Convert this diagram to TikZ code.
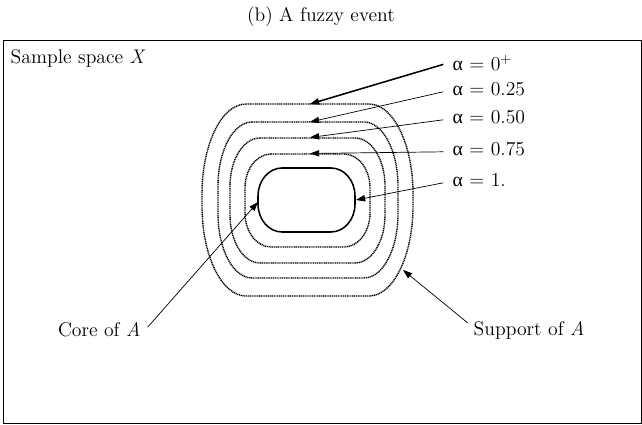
\documentclass[tikz,border=0pt]{standalone}
\usepackage{fontspec}
\newfontfamily\grkfont{Liberation Serif}
\usetikzlibrary{arrows.meta}

\newcommand{\al}{{\grkfont α}}

%% one alpha-cut: style, centre x, centre y, half width, half height, corner rx, corner ry
\newcommand{\cutline}[7]{%
  \draw[#1] (#2-#4+#6, #3+#5) -- (#2+#4-#6, #3+#5)
    arc[start angle=90, end angle=0, x radius=#6, y radius=#7]
    -- (#2+#4, #3-#5+#7)
    arc[start angle=0, end angle=-90, x radius=#6, y radius=#7]
    -- (#2-#4+#6, #3-#5)
    arc[start angle=270, end angle=180, x radius=#6, y radius=#7]
    -- (#2-#4, #3+#5-#7)
    arc[start angle=180, end angle=90, x radius=#6, y radius=#7]
    -- cycle;}

\tikzset{
  %% frame of the sample space
  frame/.style={line width=0.6pt},
  %% dotted level sets
  cut/.style={dash pattern=on 0.8pt off 0.5pt, line width=1pt},
  coreLine/.style={line width=1.1pt},
  %% arrows
  arr/.style={-{Triangle[length=6.5pt, width=4.5pt]}, line width=0.5pt},
  arrBold/.style={arr, line width=1.1pt},
  lbl/.style={font=\fontsize{14}{16}\selectfont, inner sep=1pt}
}

\begin{document}
\begin{tikzpicture}[x=0.025cm, y=0.025cm]

\useasboundingbox (0,0) rectangle (642,425);

%% ═══════════════════════════════════════════════════════════════
%%  TITLE AND FRAME
%% ═══════════════════════════════════════════════════════════════

\node[lbl] (title) at (321,408) {(b) A fuzzy event};

\draw[frame] (3,2) rectangle (641,385);
\node[lbl, anchor=west] (space) at (9,367) {Sample space \textit{X}};

%% ═══════════════════════════════════════════════════════════════
%%  LEVEL SETS
%% ═══════════════════════════════════════════════════════════════

\cutline{cut}{307.5}{225}{105.5}{96}{44}{90}
\cutline{cut}{308}{225}{90}{78}{34}{64}
\cutline{cut}{307.5}{224.5}{77.5}{62.5}{30}{48}
\cutline{cut}{307.5}{224.5}{62.5}{46.5}{26}{34}
\cutline{coreLine}{306.5}{225}{48.5}{32}{24}{28}

\coordinate (tipZero)    at (310,321);
\coordinate (tipQuarter) at (310,303);
\coordinate (tipHalf)    at (310,287.5);
\coordinate (tipThreeQ)  at (310,271.5);
\coordinate (tipOne)     at (356,225);
\coordinate (tipCore)    at (258,223);
\coordinate (tipSupp)    at (403,155);

%% ═══════════════════════════════════════════════════════════════
%%  LABELS
%% ═══════════════════════════════════════════════════════════════

\node[lbl, anchor=west] (aZero)    at (451,362) {\al{} = 0$^+$};
\node[lbl, anchor=west] (aQuarter) at (451,336) {\al{} = 0.25};
\node[lbl, anchor=west] (aHalf)    at (451,308) {\al{} = 0.50};
\node[lbl, anchor=west] (aThreeQ)  at (451,276) {\al{} = 0.75};
\node[lbl, anchor=west] (aOne)     at (451,245) {\al{} = 1.};

\node[lbl, anchor=east] (coreLbl) at (142,95) {Core of \textit{A}};
\node[lbl, anchor=west] (suppLbl) at (472,95) {Support of \textit{A}};

%% ═══════════════════════════════════════════════════════════════
%%  ARROWS
%% ═══════════════════════════════════════════════════════════════

\draw[arrBold] ([xshift=-5.5pt, yshift=-1pt]aZero.west) -- (tipZero);
\draw[arr] ([xshift=-5.5pt, yshift=-2pt]aQuarter.west) -- (tipQuarter);
\draw[arr] ([xshift=-5.5pt, yshift=-2pt]aHalf.west) -- (tipHalf);
\draw[arr] ([xshift=-5.5pt, yshift=-2pt]aThreeQ.west) -- (tipThreeQ);
\draw[arr] ([xshift=-5.5pt, yshift=-2pt]aOne.west) -- (tipOne);

\draw[arr] ([xshift=4pt, yshift=2pt]coreLbl.east) -- (tipCore);
\draw[arr] ([xshift=-3pt, yshift=5pt]suppLbl.west) -- (tipSupp);

\end{tikzpicture}
\end{document}
